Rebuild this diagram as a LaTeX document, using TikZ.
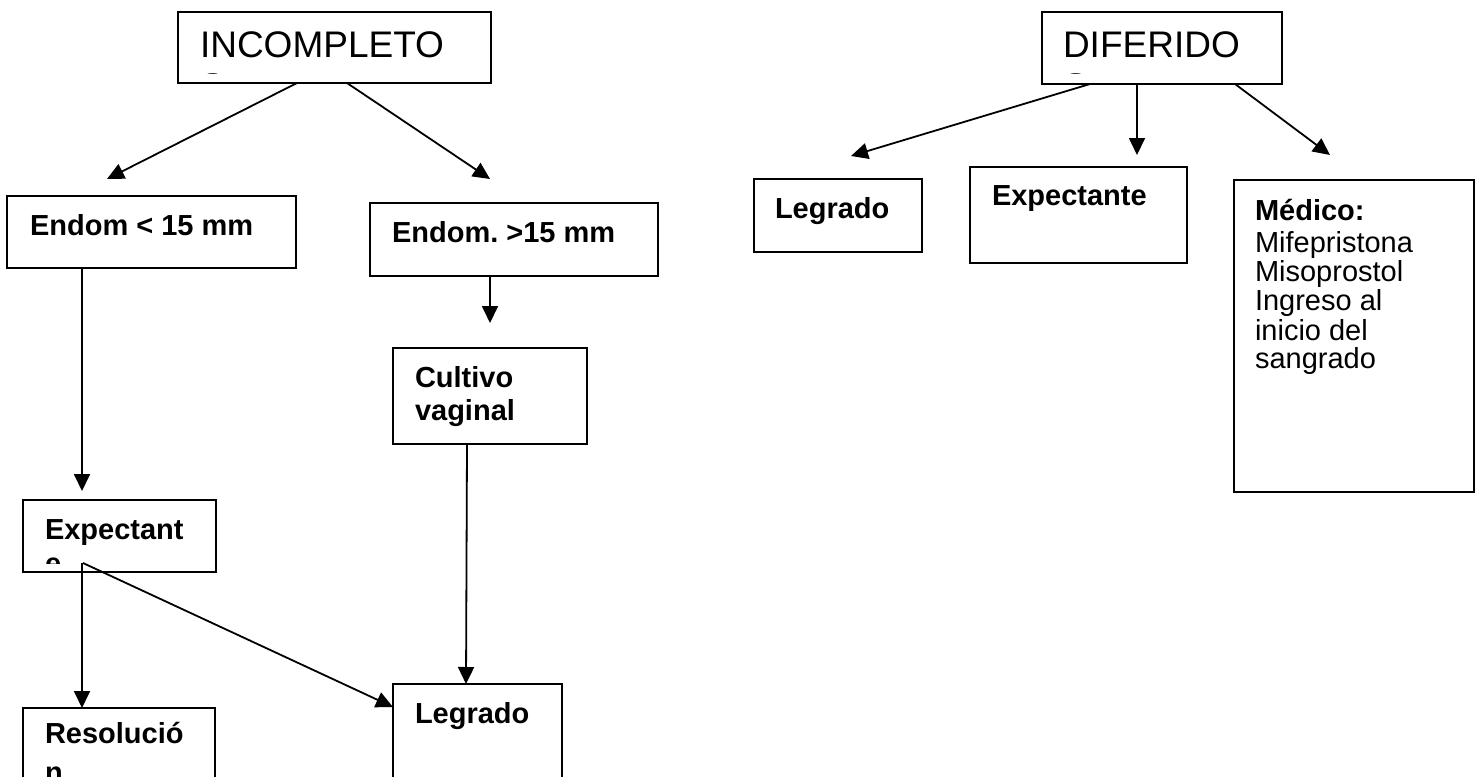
\documentclass[tikz,border=0pt]{standalone}
\usepackage{fontspec}
\setmainfont{Liberation Sans}
\usetikzlibrary{arrows.meta}
\frenchspacing
\tikzset{
  box/.style={draw, line width=2.6pt, inner sep=0pt, outer sep=0pt, anchor=north west},
  txt/.style={inner sep=0pt, outer sep=0pt, anchor=base west, font=\fontsize{29}{33}\selectfont},
  btxt/.style={txt, font=\fontsize{29}{33}\selectfont\bfseries},
  ttl/.style={txt, font=\fontsize{37}{42}\selectfont},
  arr/.style={line width=1.8pt, -{Triangle[length=17pt,width=16pt]}},
  ln/.style={line width=1.8pt}
}
\begin{document}
\begin{tikzpicture}[x=1pt,y=-1pt]
\clip (0,0) rectangle (1479,776);
\fill[white] (0,0) rectangle (1479,776);

% boxes
\node[box, minimum width=313pt, minimum height=71pt] (inc) at (178,12) {};
\node[box, minimum width=240pt, minimum height=72pt] (dif) at (1042,12) {};
\node[box, minimum width=289pt, minimum height=72pt] (e15) at (7,196) {};
\node[box, minimum width=288pt, minimum height=73pt] (e15b) at (370,203) {};
\node[box, minimum width=194pt, minimum height=96pt] (cult) at (393,348) {};
\node[box, minimum width=193pt, minimum height=72pt] (exp) at (23,500) {};
\node[box, minimum width=192pt, minimum height=110pt] (res) at (23,708) {};
\node[box, minimum width=169pt, minimum height=110pt] (leg) at (393,684) {};
\node[box, minimum width=168pt, minimum height=73pt] (legd) at (754,179) {};
\node[box, minimum width=217pt, minimum height=96pt] (expd) at (970,167) {};
\node[box, minimum width=240pt, minimum height=312pt] (med) at (1234,180) {};

% texts
\node[ttl] (tinc) at (200,57) {INCOMPLETO};
\begin{scope}
  \clip (178,12) rectangle (491,73);
  \node[ttl] (tincS) at (200,99) {S};
\end{scope}
\node[ttl] (tdif) at (1063,57) {DIFERIDO};
\begin{scope}
  \clip (1042,12) rectangle (1282,73);
  \node[ttl] (tdifS) at (1063,99) {S};
\end{scope}
\node[btxt] (te15) at (30,235) {Endom < 15 mm};
\node[btxt] (te15b) at (392,242) {Endom. >15 mm};
\node[btxt] (tcult1) at (415,387) {Cultivo};
\node[btxt] (tcult2) at (415,420) {vaginal};
\node[btxt] (texp) at (45,539) {Expectant};
\begin{scope}
  \clip (23,500) rectangle (216,563);
  \node[btxt] (texpe) at (45,573) {e};
\end{scope}
\node[btxt] (tres) at (45,743) {Resolució};
\node[btxt] (tresn) at (45,782) {n};
\node[btxt] (tleg) at (415,723) {Legrado};
\node[btxt] (tlegd) at (775,218) {Legrado};
\node[btxt] (texpd) at (992,205) {Expectante};
\node[btxt] (tmed1) at (1255,220) {Médico:};
\node[txt] (tmed2) at (1255,252) {Mifepristona};
\node[txt] (tmed3) at (1255,281) {Misoprostol};
\node[txt] (tmed4) at (1255,310) {Ingreso al};
\node[txt] (tmed5) at (1255,340) {inicio del};
\node[txt] (tmed6) at (1255,368) {sangrado};

% free arrow ends
\coordinate (a1) at (107,179);
\coordinate (a2) at (490,179);
\coordinate (a3) at (82,491);
\coordinate (a4) at (490,323);
\coordinate (a5) at (851,156);
\coordinate (a6) at (1137,155);
\coordinate (a7) at (1330,155);
\coordinate (s1) at (82,563);
\coordinate (s2) at (83,563);

% connectors
\draw[arr] ([xshift=119pt]inc.south west) -- (a1);
\draw[arr] ([xshift=169pt]inc.south west) -- (a2);
\draw[arr] ([xshift=75pt]e15.south west) -- (a3);
\draw[arr] ([xshift=120pt]e15b.south west) -- (a4);
\draw[arr] ([xshift=74pt]cult.south west) -- ([xshift=73pt]leg.north west);
\draw[arr] (s1) -- ([xshift=59pt]res.north west);
\draw[arr] (s2) -- ([yshift=-23pt]leg.north west);
\draw[arr] ([xshift=48pt]dif.south west) -- (a5);
\draw[arr] ([xshift=95pt]dif.south west) -- (a6);
\draw[arr] ([xshift=193pt]dif.south west) -- (a7);
\end{tikzpicture}
\end{document}
